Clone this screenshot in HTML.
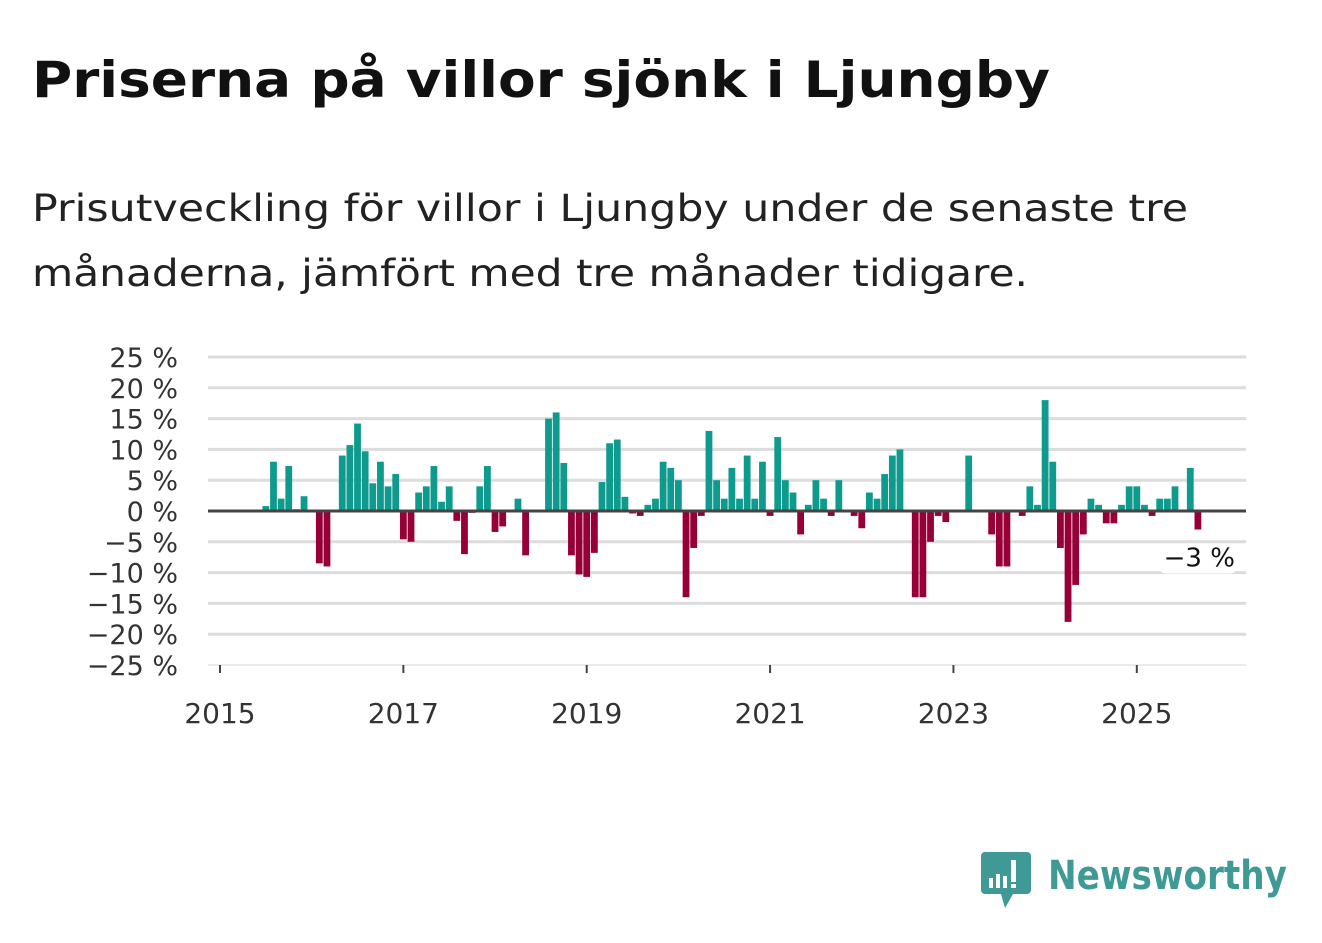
<!DOCTYPE html>
<html><head><meta charset="utf-8">
<style>
body{margin:0;background:#fff;width:1322px;height:939px;overflow:hidden;font-family:"DejaVu Sans","Liberation Sans",sans-serif;}
</style></head>
<body>
<svg id="c" width="1322" height="939" xmlns="http://www.w3.org/2000/svg" font-family="DejaVu Sans, Liberation Sans, sans-serif">
<text x="32" y="97" font-size="50" font-weight="bold" fill="#111" textLength="1018" lengthAdjust="spacingAndGlyphs">Priserna på villor sjönk i Ljungby</text>
<text x="32" y="221" font-size="37" fill="#222" textLength="1156" lengthAdjust="spacingAndGlyphs">Prisutveckling för villor i Ljungby under de senaste tre</text>
<text x="32" y="286" font-size="37" fill="#222" textLength="996" lengthAdjust="spacingAndGlyphs">månaderna, jämfört med tre månader tidigare.</text>
<g id="grid"></g><g id="bars"></g><g id="axes"></g>
<g>
<path d="M985,852 h42 a4,4 0 0 1 4,4 v34 a4,4 0 0 1 -4,4 h-14 l-8,14 l-4,-14 h-16 a4,4 0 0 1 -4,-4 v-34 a4,4 0 0 1 4,-4z" fill="#3f9a96"/>
<rect x="989" y="878" width="4" height="10" fill="#fff"/><rect x="996" y="874" width="4" height="14" fill="#fff"/><rect x="1003" y="876" width="4" height="12" fill="#fff"/><rect x="1011" y="860" width="5" height="22" fill="#fff"/><rect x="1011" y="884" width="5" height="4" fill="#fff"/>
<text x="1048" y="889" font-size="40" font-weight="bold" fill="#3f9a96" textLength="239" lengthAdjust="spacingAndGlyphs">Newsworthy</text>
</g>
</svg>
<script>
const months=[6,7,8,9,10,11,13,14,16,17,18,19,20,21,22,23,24,25,26,27,28,29,30,31,32,33,34,35,36,37,39,40,43,44,45,46,47,48,49,50,51,52,53,54,55,56,57,58,59,60,61,62,63,64,65,66,67,68,69,70,71,72,73,74,75,76,77,78,79,80,81,83,84,85,86,87,88,89,91,92,93,94,95,98,101,102,103,105,106,107,108,109,110,111,112,113,114,115,116,117,118,119,120,121,122,123,124,125,127,128];
const values=[0.8,8,2,7.3,0.3,2.4,-8.5,-9,9,10.7,14.2,9.7,4.5,8,4,6,-4.6,-5,3,4,7.3,1.5,4,-1.6,-7,-0.3,4,7.3,-3.4,-2.5,2,-7.2,15,16,7.8,-7.2,-10.3,-10.7,-6.8,4.7,11,11.6,2.3,-0.4,-0.8,1,2,8,7,5,-14,-6,-0.8,13,5,2,7,2,9,2,8,-0.8,12,5,3,-3.8,1,5,2,-0.8,5,-0.8,-2.8,3,2,6,9,10,-14,-14,-5,-0.8,-1.8,9,-3.8,-9,-9,-0.8,4,1,18,8,-6,-18,-12,-3.8,2,1,-2,-2,1,4,4,1,-0.8,2,2,4,7,-3];
const yTicks=[25,20,15,10,5,0,-5,-10,-15,-20,-25];
const xTickYears=[2015,2017,2019,2021,2023,2025];
const NS="http://www.w3.org/2000/svg";
const y=v=>511-v*6.16, x=m=>220+m*7.64;
function mk(t,a,p){const e=document.createElementNS(NS,t);for(const k in a)e.setAttribute(k,a[k]);p.appendChild(e);return e;}
const G=document.getElementById('grid'),B=document.getElementById('bars'),A=document.getElementById('axes');
yTicks.forEach(v=>{
 const l=mk('line',{x1:208,x2:1246,y1:y(v),y2:y(v),stroke:v===-25?'#e4e4e4':'#dcdcdc','stroke-width':v===-25?1.5:3},G);
 
 
 const t=mk('text',{x:178,y:y(v)+10,'text-anchor':'end','font-size':27,fill:'#333'},A);
 t.textContent=(v<0?'\u2212'+(-v):v)+' %';
 
 
});
months.forEach((m,i)=>{
 const v=values[i];
 const r=mk('rect',{x:x(m)-3.4,width:6.8,y:Math.min(y(v),511),height:Math.abs(y(v)-511),fill:v>=0?'#0f9a8e':'#960037'},B);
 
 
});
const z=mk('line',{x1:208,x2:1246,y1:511,y2:511,stroke:'#444','stroke-width':3},A);


xTickYears.forEach(yr=>{
 const px=x((yr-2015)*12);
 const tk=mk('line',{x1:px,x2:px,y1:665,y2:673,stroke:'#444','stroke-width':2},A);
 
 
 const t=mk('text',{x:px,y:723,'text-anchor':'middle','font-size':28,fill:'#333'},A);
 t.textContent=yr;
 
 
});
const lastM=months[months.length-1],lastV=values[values.length-1];
const bg=mk('rect',{x:x(lastM)-40,y:y(lastV)+14,width:80,height:30,fill:'#fff',rx:8},A);


const lt=mk('text',{x:x(lastM)+37,y:y(lastV)+37,'text-anchor':'end','font-size':26,fill:'#111'},A);
lt.textContent='\u2212'+Math.abs(lastV)+' %';


</script>
</body></html>
